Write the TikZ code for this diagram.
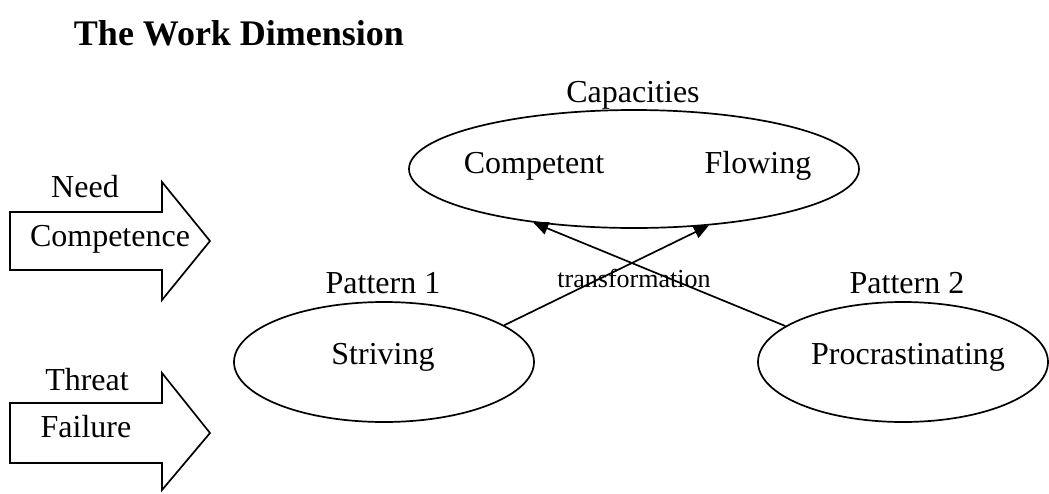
\documentclass[tikz,border=0pt]{standalone}
\usepackage{fontspec}
\setmainfont{Liberation Serif}
\usetikzlibrary{arrows.meta, shapes.geometric, positioning}
\tikzset{>={Triangle[length=15pt,width=13pt]}}
\begin{document}
\begin{tikzpicture}[x=1pt, y=-1pt, font=\fontsize{32}{38}\selectfont,
    oval/.style={ellipse, draw, line width=1.7pt, inner sep=0pt},
    bigarrow/.style={draw, line width=1.7pt, line join=miter}]
  \useasboundingbox (0,0) rectangle (1049,493);
  \node[anchor=base, font=\fontsize{36}{42}\selectfont\bfseries] (title) at (239,45) {The Work Dimension};

  \draw [bigarrow] (10,212) -- (162,212) -- (162,182) -- (210,241) -- (162,300) -- (162,270) -- (10,270) -- cycle;
  \node[anchor=base] (need) at (85,197) {Need};
  \node[anchor=base] (compt) at (110,246) {Competence};

  \draw [bigarrow] (10,403) -- (162,403) -- (162,373) -- (210,433) -- (162,490) -- (162,463) -- (10,463) -- cycle;
  \node[anchor=base] (threat) at (87,390) {Threat};
  \node[anchor=base] (fail) at (86,437) {Failure};

  \node[oval, minimum width=450pt, minimum height=118pt] (caps) at (634,169) {};
  \node[anchor=base] (capslbl) at (633,102) {Capacities};
  \node[anchor=base] (comp) at (534,173) {Competent};
  \node[anchor=base] (flow) at (758,173) {Flowing};

  \node[oval, minimum width=300pt, minimum height=120pt] (strv) at (384,362) {};
  \node[anchor=base] (pat1) at (383,293) {Pattern 1};
  \node[anchor=base] (strvtxt) at (383,364) {Striving};

  \node[oval, minimum width=290pt, minimum height=120pt] (proc) at (903,362) {};
  \node[anchor=base] (pat2) at (907,293) {Pattern 2};
  \node[anchor=base] (proctxt) at (908,364) {Procrastinating};

  \draw [->, line width=1.7pt] (strv.17) -- (caps.-37);
  \draw [->, line width=1.7pt] (proc.163) -- (caps.-152);
  \node[anchor=base, font=\fontsize{26}{30}\selectfont] (trans) at (634,287) {transformation};
\end{tikzpicture}
\end{document}
